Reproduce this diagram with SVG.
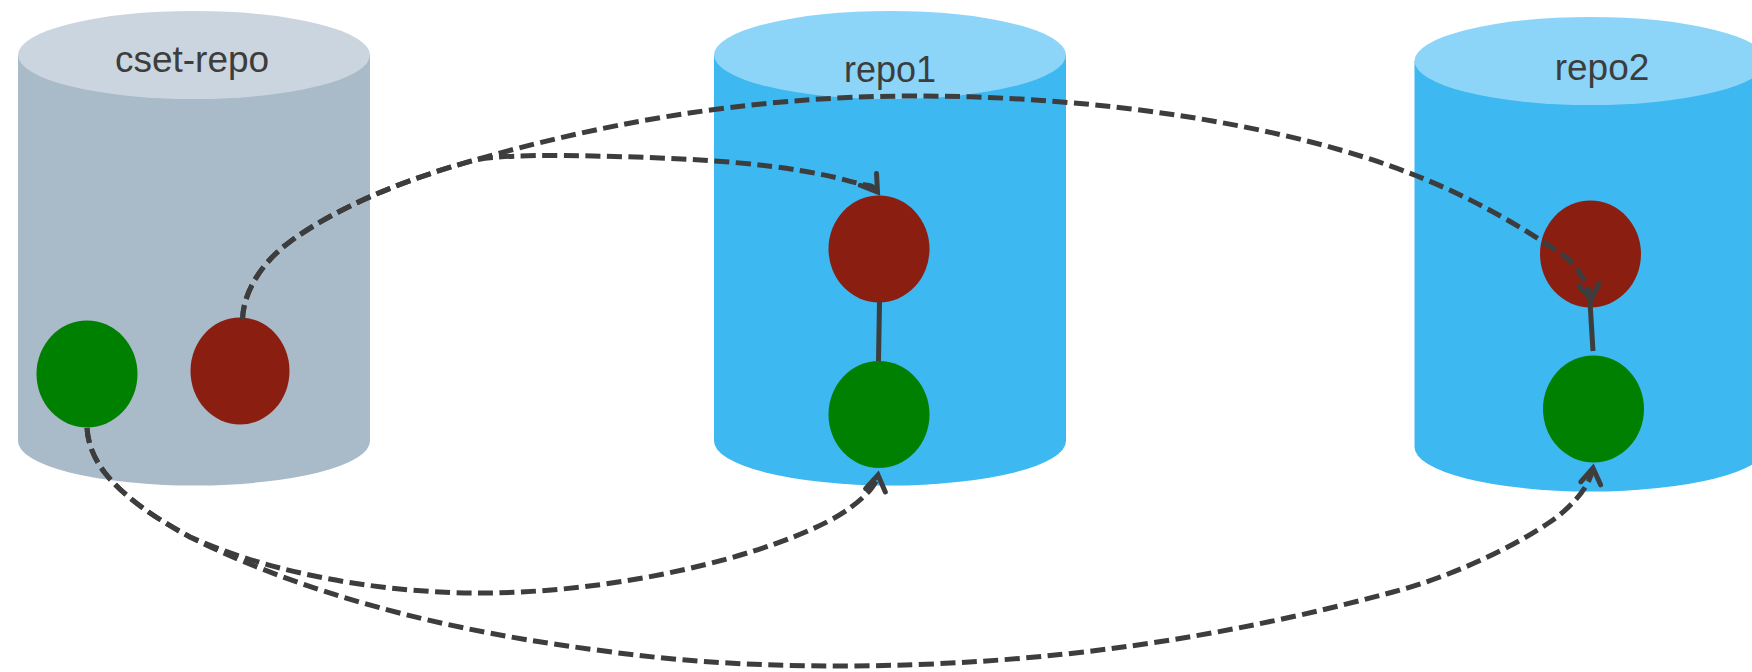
<svg xmlns="http://www.w3.org/2000/svg" width="1752" height="672" viewBox="0 0 1752 672">
<style>
.lbl{font-family:"Liberation Sans",Arial,sans-serif;font-size:37px;fill:#3d3d3d;text-anchor:middle}
.g{fill:#a9bac9}.gt{fill:#cbd5df}.b{fill:#3eb8f1}.bt{fill:#8cd5f8}
.red{fill:#8a1f11}.grn{fill:#008000}
.c{fill:none;stroke:#3d3d3d;stroke-width:5}
.d{stroke-dasharray:15 6.500}
</style>
<defs>
<marker id="arr" markerUnits="userSpaceOnUse" markerWidth="40" markerHeight="40" refX="22" refY="20" orient="auto" overflow="visible">
<path d="M6.500 10 L22 20 L6.500 30" fill="none" stroke="#3d3d3d" stroke-width="5" stroke-linecap="round" stroke-linejoin="miter"/>
</marker>
</defs>
<rect width="1752" height="672" fill="#fff"/>
<g id="cset-repo">
<path class="g" d="M18 55 V441 A176 44.5 0 0 0 370 441 V55 Z"/>
<ellipse class="gt" cx="194" cy="55" rx="176" ry="44"/>
<text class="lbl" x="192" y="72">cset-repo</text>
</g>
<g id="repo1">
<path class="b" d="M714 55 V441 A176 44.5 0 0 0 1066 441 V55 Z"/>
<ellipse class="bt" cx="890" cy="55" rx="176" ry="44"/>
<text class="lbl" x="890" y="82" style="font-size:36px">repo1</text>
</g>
<g id="repo2">
<path class="b" d="M1414.500 61 V447 A176 44.500 0 0 0 1766.500 447 V61 Z"/>
<ellipse class="bt" cx="1590.500" cy="61" rx="176" ry="44"/>
<text class="lbl" x="1602" y="80">repo2</text>
</g>
<g id="cset-green"><ellipse class="grn" cx="87" cy="374" rx="50.500" ry="53.500"/></g>
<g id="cset-red"><ellipse class="red" cx="240" cy="371" rx="49.500" ry="53.500"/></g>
<g id="repo1-red"><ellipse class="red" cx="879" cy="249" rx="50.500" ry="53.500"/></g>
<g id="repo1-green"><ellipse class="grn" cx="879" cy="414.500" rx="50.500" ry="53.500"/></g>
<g id="repo2-red"><ellipse class="red" cx="1590.500" cy="254" rx="50.500" ry="53.500"/></g>
<g id="repo2-green"><ellipse class="grn" cx="1593.500" cy="409" rx="50.500" ry="53.500"/></g>
<g id="connectors">
<path class="c" d="M879.500 302 L878.500 361"/>
<path class="c" d="M1590 302 L1593 351"/>
<path class="c d" marker-end="url(#arr)" d="M242.500 320 C243 292 262 262 290 241.700 C340 205 410 178 475 160 C495 156 525 155.500 559 155.500 C693 157 790 163 860 184 C868 186 871 183 877.500 192"/>
<path class="c d" marker-end="url(#arr)" d="M242.500 320 C243 292 262 262 290 241.700 C340 205 410 178 475 160 C590 127 740 96 916 96 C1100 96 1290 125 1417 176 C1470 197 1525 228 1567 258 C1578 268 1589 285 1591 300"/>
<path class="c d" marker-end="url(#arr)" d="M87 428 C88 445 95 460 105 473 C125 498 155 518 190 537 C280 577 390 593 480 593 C640 593 800 545 850 508 C862 499 876 487 878 475"/>
<path class="c d" marker-end="url(#arr)" d="M87 428 C88 445 95 460 105 473 C125 498 155 518 190 537 C270 577 400 625 597 650 C680 662 760 666 838 666 C1050 666 1230 636 1393 592 C1450 577 1510 549 1550 522 C1568 510 1590 488 1593 468"/>
</g>
</svg>
